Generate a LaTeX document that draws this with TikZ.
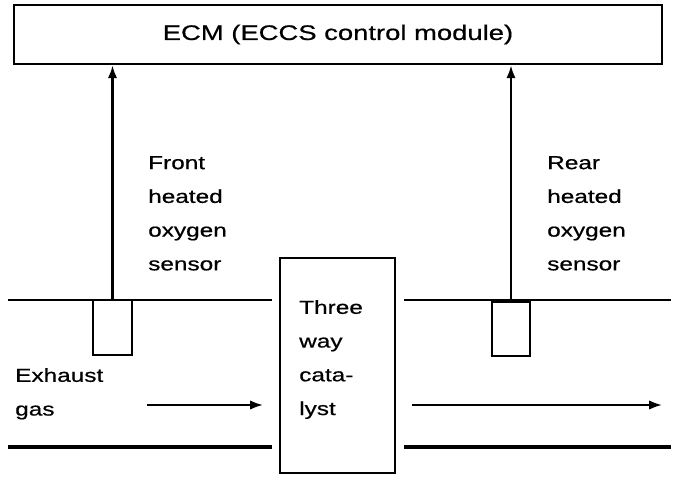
\documentclass[tikz,border=0pt]{standalone}
\usepackage{fontspec}
\setmainfont{Liberation Sans}[FakeStretch=1.3,FakeBold=0.6]
\usetikzlibrary{arrows.meta,positioning}

\tikzset{
    label/.style={anchor=north west,inner sep=0pt,align=left,font=\fontsize{16}{28.8}\selectfont},
    sensorbox/.style={draw,line width=2pt,minimum width=1.1cm,minimum height=1.6cm,inner sep=0pt},
    signal/.style={line width=2pt,-{Latex[length=11pt,width=8pt]}},
    flow/.style={line width=1.8pt,-{Latex[length=11pt,width=8pt]}}
}

\begin{document}
\begin{tikzpicture}[x=0.03cm,y=-0.03cm]
    \useasboundingbox (0,0) rectangle (688,480);

    % ECM
    \node[draw,line width=2.2pt,minimum width=19.44cm,minimum height=1.77cm,inner sep=0pt,
          font=\fontsize{18}{22}\selectfont] (ecm) at (338,34.5) {ECM (ECCS control module)};

    % Exhaust pipe walls
    \draw[line width=1.6pt] (8,300) -- (272,300);
    \draw[line width=2.6pt] (8,447) -- (272,447);
    \draw[line width=1.6pt] (404,300) -- (671,300);
    \draw[line width=2.6pt] (404,447) -- (671,447);

    % Catalyst
    \node[draw,line width=2pt,minimum width=3.45cm,minimum height=6.45cm,inner sep=0pt] (cat) at (337.5,365.5) {};
    \node[label] (catlbl) at (299,300) {Three\\way\\cata-\\lyst};

    % Sensors
    \node[sensorbox,minimum width=1.17cm,minimum height=1.65cm] (fsens) at (112.5,327.5) {};
    \node[sensorbox,minimum width=1.14cm,minimum height=1.62cm] (rsens) at (511,329) {};
    \draw[signal] (fsens.north) -- (fsens.north |- ecm.south);
    \draw[signal] (rsens.north) -- (rsens.north |- ecm.south);
    \node[label] (fsenslbl) at (148,156) {Front\\heated\\oxygen\\sensor};
    \node[label] (rsenslbl) at (547,156) {Rear\\heated\\oxygen\\sensor};

    % Gas flow
    \node[label] (gaslbl) at (15,368) {Exhaust\\gas};
    \coordinate (in1) at (147,405);
    \coordinate (in2) at (263,405);
    \coordinate (out1) at (412,405);
    \coordinate (out2) at (662,405);
    \draw[flow] (in1) -- (in2);
    \draw[flow] (out1) -- (out2);
\end{tikzpicture}
\end{document}
